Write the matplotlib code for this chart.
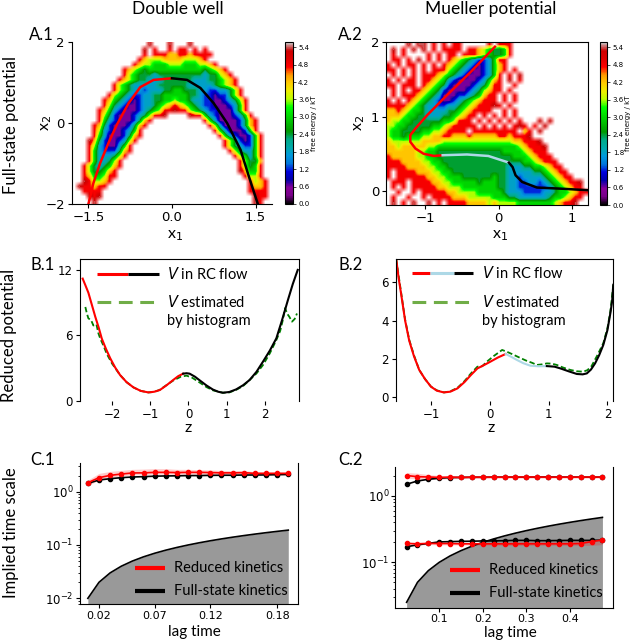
import matplotlib
matplotlib.use('Agg')
import matplotlib.pyplot as plt
import numpy as np

W, H = 634, 640
LABEL_FONT = ['Lato', 'DejaVu Sans']

# free energy maps, one string per row from the top
# "column:levels", level n means n * 0.6 kT and a dot is an empty bin
well_rows = [
    "15:9...9...9",
    "14:9.8..8.88.8.8",
    "14:8.888778878888",
    "13:87666777766678",
    "12:87665556665556678",
    "10:876545555555555545678",
    "10:8654443444444444344678",
    "9:876544333444444333445678",
    "8:8654333334444443333345678",
    "8:86543323334455444332233468",
    "7:865432233445555544322122468",
    "6:87543212334455655433221123468",
    "6:86432112334567876543221112358",
    "5:875321112345688988654322111358",
    "5:86421112346889 23:9885321112358",
    "5:85321112478 26:85311112478",
    "4:87421112478 27:8631112478",
    "4:8632112358 28:853111258",
    "4:8531112478 29:853211258",
    "3:9742112368 30:86421258",
    "3:863211358 30:86432258",
    "3:853222478 31:8643358",
    "3:85333468 32:865358",
    "3:8533468 33:86447",
    "2:86434578 33:86458",
    "2:8644578 33:97558",
    "2:8755688 34:8668",
    "2:986678 35:8678",
    "1:988788 35:8778",
    "2:8888 35:8888",
    "3:989 36:988",
    "4:9 36:98",
]
mueller_rows = [
    "4:9.99 9:8.8.88 20:8.888",
    "1:9.8 5:9.9 9:8.8888 16:88765445 24:8",
    "1:8.8 8:8.8.8 13:8.888765445 24:8",
    "1:88 4:8.9 8:8.8 12:876543223588",
    "0:8.8.88 7:8.8.8 11:8765432123578",
    "0:88.8 5:8.8.88 10:88654321123578 25:8",
    "1:8.8.8.888 9:87654321112358 24:8.9",
    "0:8.8.88.8 8:876532111123578 24:9.8",
    "0:88.888 7:8765421111234688 25:8",
    "1:8.8.8 6:87654211112346788 24:8",
    "1:8.888 5:87654311122345788 23:8.8",
    "0:8.8 4:876543211234567888 22:.8.8",
    "0:8888765433223345678889 22:8.8",
    "0:778765543333445678888 22:.8.8",
    "0:777655443334456788 18:.8.8.8.8",
    "0:7665544444455688 16:8.8.8.8.8.8 30:9.9",
    "0:66554444455678888 17:8.8.8.8.8.8.8 26:9 31:9",
    "0:655444455667888 15:8.888888888.8 27:78 30:9",
    "0:65545556677887778777778878889",
    "0:7666666777766666666666666778889",
    "0:77677777665555555555555555678889",
    "0:77777766554444444444444555567888",
    "0:877777665544444444444444455567888",
    "0:8887777665544444444444444445567888",
    "0:88887777665544444444444433344556788",
    "0:8.8888777665544444444444333334456788",
    "0:8.88888877665554444445443323333456788",
    "0:.888.8888776655555455544332233234567889",
    "0:.8.8.8888877666555555544332222223456788",
    "0:..8..8.888887766665555543332222334556788",
    "0:.8..8..8.888877766666555443333334556788",
    "0:.9.8.9..9.8.88887777676666555555567889",
]

# projected paths in the (x1, x2) plane
well_red_x = [-1.50, -1.41, -1.29, -1.14, -0.99, -0.78, -0.57, -0.33, 0.0]
well_red_y = [-2.0, -1.48, -0.99, -0.49, -0.04, 0.49, 0.89, 1.07, 1.11]
well_black_x = [0.0, 0.27, 0.51, 0.75, 0.99, 1.23, 1.38, 1.54]
well_black_y = [1.11, 1.07, 0.87, 0.49, 0.0, -0.66, -1.32, -2.0]
mueller_red_x = [-0.05, -0.38, -0.70, -0.97, -1.13, -1.20, -1.20, -1.13, -1.02, -0.88, -0.76]
mueller_red_y = [1.94, 1.60, 1.29, 1.02, 0.84, 0.75, 0.66, 0.57, 0.50, 0.47, 0.48]
mueller_blue_x = [-0.76, -0.43, -0.14, 0.14]
mueller_blue_y = [0.48, 0.49, 0.47, 0.38]
mueller_black_x = [0.14, 0.19, 0.23, 0.32, 0.52, 0.84, 1.2]
mueller_black_y = [0.38, 0.32, 0.21, 0.12, 0.045, 0.03, 0.01]

# reduced potentials
b1_red_z = [-2.77, -2.70, -2.62, -2.53, -2.44, -2.35, -2.27, -2.16, -2.05, -1.92, -1.79, -1.62, -1.44, -1.25,
            -1.05, -0.9, -0.75, -0.58, -0.4, -0.27, -0.14]
b1_red_v = [11.2, 10.6, 9.9, 8.8, 7.7, 6.7, 5.7, 4.75, 3.9, 3.05, 2.35, 1.7, 1.22, 0.9,
            0.76, 0.82, 0.98, 1.4, 1.9, 2.25, 2.48]
b1_black_z = [-0.14, -0.05, 0.03, 0.17, 0.3, 0.47, 0.64, 0.78, 0.9, 1.07, 1.25, 1.43, 1.6, 1.78,
              1.95, 2.13, 2.3, 2.45, 2.6, 2.73, 2.86]
b1_black_v = [2.48, 2.52, 2.48, 2.2, 1.85, 1.4, 1.02, 0.82, 0.73, 0.8, 1.04, 1.42, 1.9, 2.65,
              3.58, 4.6, 5.72, 7.4, 9.2, 10.7, 12.0]
b1_hist_z = [-2.7, -2.66, -2.62, -2.55, -2.49, -2.41, -2.36, -2.31, -2.22, -2.14, -2.0, -1.79, -1.62, -1.44,
             -1.25, -1.05, -0.9, -0.75, -0.58, -0.4, -0.2, -0.05, 0.1, 0.3, 0.47, 0.64, 0.9, 1.07,
             1.25, 1.43, 1.6, 1.78, 1.95, 2.13, 2.3, 2.4, 2.47, 2.53, 2.58, 2.64, 2.71, 2.78, 2.84]
b1_hist_v = [8.6, 8.0, 7.55, 7.4, 6.9, 7.0, 6.2, 5.7, 5.0, 4.3, 3.4, 2.35, 1.7, 1.22,
             0.9, 0.76, 0.8, 1.0, 1.42, 1.85, 2.2, 2.3, 2.1, 1.65, 1.25, 0.95, 0.73, 0.76,
             1.0, 1.35, 1.9, 2.5, 3.27, 4.35, 5.57, 6.4, 7.4, 8.5, 8.0, 7.7, 7.25, 7.5, 8.0]
b2_red_z = [-1.59, -1.55, -1.51, -1.44, -1.37, -1.29, -1.20, -1.1, -1.0, -0.9, -0.78, -0.67, -0.55, -0.43,
            -0.32, -0.21, -0.1, 0.01, 0.14, 0.27]
b2_red_v = [7.17, 6.2, 5.43, 4.0, 2.95, 2.15, 1.43, 0.95, 0.56, 0.35, 0.26, 0.3, 0.47, 0.8,
            1.17, 1.51, 1.68, 1.86, 2.08, 2.26]
b2_blue_z = [0.27, 0.36, 0.46, 0.57, 0.69, 0.83, 0.97]
b2_blue_v = [2.26, 2.12, 1.95, 1.78, 1.65, 1.62, 1.63]
b2_black_z = [0.97, 1.1, 1.2, 1.34, 1.48, 1.58, 1.65, 1.72, 1.79, 1.86, 1.93, 2.0, 2.05, 2.08, 2.1]
b2_black_v = [1.63, 1.6, 1.51, 1.36, 1.22, 1.2, 1.25, 1.45, 1.77, 2.2, 2.73, 3.5, 4.38, 5.0, 5.86]
b2_hist_z = [-1.59, -1.51, -1.44, -1.37, -1.29, -1.20, -1.1, -1.0, -0.9, -0.78, -0.67, -0.55, -0.43, -0.32,
             -0.21, -0.13, -0.05, 0.07, 0.21, 0.31, 0.41, 0.52, 0.63, 0.72, 0.8, 0.89, 0.97, 1.05,
             1.14, 1.25, 1.37, 1.48, 1.59, 1.66, 1.73, 1.83, 1.93, 2.0, 2.05, 2.1]
b2_hist_v = [7.17, 5.5, 4.05, 3.0, 2.2, 1.43, 0.95, 0.56, 0.37, 0.26, 0.32, 0.5, 0.85, 1.25,
             1.6, 1.62, 1.86, 2.16, 2.47, 2.35, 2.21, 2.05, 1.9, 1.8, 1.69, 1.72, 1.77, 1.76,
             1.69, 1.55, 1.43, 1.36, 1.34, 1.42, 1.63, 2.2, 2.82, 3.6, 4.47, 5.86]

# implied time scales
c1_lag = [0.01, 0.02, 0.03, 0.04, 0.05, 0.06, 0.07, 0.08, 0.09, 0.10,
          0.11, 0.12, 0.13, 0.14, 0.15, 0.16, 0.17, 0.18, 0.19]
c1_red = [1.47, 1.83, 2.02, 2.14, 2.24, 2.25, 2.3, 2.3, 2.28, 2.3,
          2.3, 2.28, 2.25, 2.25, 2.27, 2.2, 2.2, 2.2, 2.2]
c1_red_low = [1.3, 1.65, 1.85, 1.98, 2.05, 2.08, 2.12, 2.12, 2.12, 2.14,
              2.14, 2.12, 2.1, 2.1, 2.1, 2.06, 2.06, 2.06, 2.06]
c1_red_high = [1.65, 2.2, 2.4, 2.5, 2.62, 2.65, 2.7, 2.7, 2.62, 2.62,
               2.58, 2.55, 2.5, 2.48, 2.48, 2.38, 2.36, 2.34, 2.34]
c1_black = [1.43, 1.65, 1.75, 1.83, 1.88, 1.91, 1.95, 1.97, 1.98, 2.0,
            2.0, 2.02, 2.03, 2.03, 2.05, 2.05, 2.06, 2.08, 2.1]
c2_lag = [0.025, 0.05, 0.075, 0.1, 0.125, 0.15, 0.175, 0.2, 0.225, 0.25,
          0.275, 0.3, 0.325, 0.35, 0.375, 0.4, 0.425, 0.45, 0.475]
c2_red_slow = [2.03, 1.95, 1.93, 1.9, 1.92, 1.9, 1.92, 1.92, 1.92, 1.92,
               1.93, 1.93, 1.93, 1.92, 1.92, 1.92, 1.92, 1.93, 1.92]
c2_red_slow_low = [1.85, 1.8, 1.78, 1.78, 1.82, 1.82, 1.84, 1.84, 1.84, 1.84,
                   1.85, 1.85, 1.85, 1.85, 1.85, 1.85, 1.85, 1.85, 1.85]
c2_red_slow_high = [2.25, 2.2, 2.1, 2.03, 2.02, 2.0, 2.0, 2.0, 2.0, 2.0,
                    2.0, 2.0, 2.0, 2.0, 2.0, 2.0, 2.0, 2.0, 2.0]
c2_black_slow = [1.5, 1.68, 1.78, 1.85, 1.89, 1.9, 1.91, 1.91, 1.92, 1.92,
                 1.92, 1.92, 1.93, 1.93, 1.92, 1.92, 1.92, 1.92, 1.92]
c2_red_fast = [0.193, 0.19, 0.193, 0.192, 0.192, 0.19, 0.19, 0.19, 0.19, 0.19,
               0.19, 0.19, 0.19, 0.19, 0.19, 0.19, 0.192, 0.205, 0.217]
c2_red_fast_low = [0.185, 0.183, 0.185, 0.183, 0.183, 0.182, 0.182, 0.182, 0.182, 0.18,
                   0.18, 0.18, 0.18, 0.18, 0.18, 0.18, 0.18, 0.18, 0.185]
c2_red_fast_high = [0.2, 0.197, 0.2, 0.2, 0.2, 0.2, 0.2, 0.2, 0.2, 0.2,
                    0.205, 0.205, 0.205, 0.205, 0.205, 0.21, 0.21, 0.22, 0.225]
c2_black_fast = [0.172, 0.183, 0.193, 0.203, 0.205, 0.207, 0.208, 0.21, 0.21, 0.212,
                 0.214, 0.214, 0.212, 0.212, 0.213, 0.214, 0.214, 0.214, 0.216]


def read_rows(rows, n_cols=40):
    grid = np.full((len(rows), n_cols), np.nan)
    for i, row in enumerate(rows):
        for part in row.split():
            start, levels = part.split(':')
            for j, ch in enumerate(levels):
                if ch != '.' and int(start) + j < n_cols:
                    grid[i, int(start) + j] = int(ch) * 0.6
    return grid


def px_axes(left, top, right, bottom):
    return fig.add_axes([left / W, 1 - bottom / H, (right - left) / W, (bottom - top) / H])


def fig_text(x, y, s, size=11, **kw):
    fig.text(x / W, 1 - y / H, s, fontsize=size, family=LABEL_FONT, **kw)


def energy_panel(box, cbar_box, rows, xlim, ylim):
    ax = px_axes(*box)
    grid = read_rows(rows)
    # empty bins take the red of the rim and fade out through alpha
    im = ax.imshow(np.nan_to_num(grid, nan=4.8), alpha=np.isfinite(grid).astype(float), cmap='nipy_spectral',
                   vmin=0, vmax=5.57, aspect='auto', extent=[xlim[0], xlim[1], ylim[0], ylim[1]],
                   interpolation='bilinear')
    ax.set_xlim(xlim)
    ax.set_ylim(ylim)
    ax.tick_params(labelsize=9.5, length=3, pad=2)
    cax = px_axes(*cbar_box)
    sm = plt.cm.ScalarMappable(norm=im.norm, cmap=im.cmap)
    cb = fig.colorbar(sm, cax=cax)
    cb.set_ticks(np.arange(0, 5.5, 0.6))
    cb.ax.tick_params(labelsize=5, length=2, pad=2, width=0.5)
    cb.set_label('free energy / kT', fontsize=5, labelpad=1)
    return ax


def legend_line(ax, x0, x1, y, color, **kw):
    ax.plot([x0, x1], [y, y], transform=ax.transAxes, color=color, clip_on=False, **kw)


def kinetics_legend(ax, x0, x1, x_text, y0, y1):
    legend_line(ax, x0, x1, y0, 'red', lw=3, solid_capstyle='butt')
    legend_line(ax, x0, x1, y1, 'black', lw=3, solid_capstyle='butt')
    ax.text(x_text, y0, 'Reduced kinetics', transform=ax.transAxes, va='center', fontsize=10.5, family=LABEL_FONT)
    ax.text(x_text, y1, 'Full-state kinetics', transform=ax.transAxes, va='center', fontsize=10.5, family=LABEL_FONT)


def kinetics_series(ax, lag, mean, low, high, color):
    if low is not None:
        ax.fill_between(lag, low, high, color=color, alpha=0.2, lw=0)
    ax.plot(lag, mean, color=color, lw=1.2, marker='o', ms=3)


fig = plt.figure(figsize=(W / 100, H / 100), dpi=100)

# row A
ax = energy_panel((71.7, 42.3, 272.3, 204), (285, 42.3, 292.5, 204), well_rows, (-1.8, 1.8), (-2, 2))
ax.plot(well_red_x, well_red_y, color='red', lw=1.8)
ax.plot(well_black_x, well_black_y, color='black', lw=1.8)
ax.set_xticks([-1.5, 0, 1.5], ['\u22121.5', '0.0', '1.5'])
ax.set_yticks([-2, 0, 2], ['\u22122', '0', '2'])
ax.spines[['top', 'right']].set_visible(False)

ax = energy_panel((386, 42.3, 587.7, 205), (600, 42.3, 607.3, 205), mueller_rows, (-1.53, 1.21), (-0.19, 2))
ax.plot(mueller_red_x, mueller_red_y, color='red', lw=1.8)
ax.plot(mueller_blue_x, mueller_blue_y, color='lightblue', lw=1.8)
ax.plot(mueller_black_x, mueller_black_y, color='black', lw=1.8)
ax.set_xticks([-1, 0, 1], ['\u22121', '0', '1'])
ax.set_yticks([0, 1, 2])

# row B
ax = px_axes(80, 259, 298.5, 400.7)
ax.plot(b1_hist_z, b1_hist_v, color='green', lw=1.3, ls=(0, (3, 1.5)))
ax.plot(b1_red_z, b1_red_v, color='red', lw=1.5)
ax.plot(b1_black_z, b1_black_v, color='black', lw=1.5)
ax.set_xlim(-2.84, 2.88)
ax.set_ylim(0, 13)
ax.set_xticks([-2, -1, 0, 1, 2], ['\u22122', '\u22121', '0', '1', '2'])
ax.set_yticks([0, 6, 12])
ax.spines['bottom'].set_visible(False)
ax.tick_params(labelsize=8.5, length=3, pad=2)
legend_line(ax, 0.08, 0.22, 0.894, 'red', lw=2.2, solid_capstyle='butt')
legend_line(ax, 0.22, 0.36, 0.894, 'black', lw=2.2, solid_capstyle='butt')
legend_line(ax, 0.08, 0.36, 0.70, '#70ad47', lw=2.2, ls=(0, (4.5, 2.5)))
ax.text(0.40, 0.894, '$\\mathit{V}$ in RC flow', transform=ax.transAxes, va='center', fontsize=10.5, family=LABEL_FONT)
ax.text(0.40, 0.70, '$\\mathit{V}$ estimated', transform=ax.transAxes, va='center', fontsize=10.5, family=LABEL_FONT)
ax.text(0.40, 0.56, 'by histogram', transform=ax.transAxes, va='center', fontsize=10.5, family=LABEL_FONT)

ax = px_axes(395.7, 259, 613.3, 400.7)
ax.plot(b2_hist_z, b2_hist_v, color='green', lw=1.3, ls=(0, (3, 1.5)))
ax.plot(b2_red_z, b2_red_v, color='red', lw=1.5)
ax.plot(b2_blue_z, b2_blue_v, color='lightblue', lw=1.5)
ax.plot(b2_black_z, b2_black_v, color='black', lw=1.5)
ax.set_xlim(-1.6, 2.1)
ax.set_ylim(-0.17, 7.2)
ax.set_xticks([-1, 0, 1, 2], ['\u22121', '0', '1', '2'])
ax.set_yticks([0, 2, 4, 6])
ax.spines['bottom'].set_visible(False)
ax.tick_params(labelsize=8.5, length=3, pad=2)
legend_line(ax, 0.075, 0.158, 0.90, 'red', lw=2.2, solid_capstyle='butt')
legend_line(ax, 0.158, 0.268, 0.90, 'lightblue', lw=2.2, solid_capstyle='butt')
legend_line(ax, 0.268, 0.355, 0.90, 'black', lw=2.2, solid_capstyle='butt')
legend_line(ax, 0.075, 0.355, 0.70, '#70ad47', lw=2.2, ls=(0, (4.5, 2.5)))
ax.text(0.395, 0.90, '$\\mathit{V}$ in RC flow', transform=ax.transAxes, va='center', fontsize=10.5, family=LABEL_FONT)
ax.text(0.395, 0.70, '$\\mathit{V}$ estimated', transform=ax.transAxes, va='center', fontsize=10.5, family=LABEL_FONT)
ax.text(0.395, 0.565, 'by histogram', transform=ax.transAxes, va='center', fontsize=10.5, family=LABEL_FONT)

# row C, the grey area is where the time scale is below the lag time
ax = px_axes(80.3, 463.3, 298.3, 604)
ax.fill_between(c1_lag, 1e-4, c1_lag, color='#999999', lw=0)
ax.plot(c1_lag, c1_lag, color='black', lw=1.2)
kinetics_series(ax, c1_lag, c1_black, None, None, 'black')
kinetics_series(ax, c1_lag, c1_red, c1_red_low, c1_red_high, 'red')
ax.set_yscale('log')
ax.set_xlim(0.0032, 0.199)
ax.set_ylim(0.00783, 3.4)
ax.set_xticks([0.02, 0.07, 0.12, 0.18], ['0.02', '0.07', '0.12', '0.18'])
ax.spines['top'].set_visible(False)
ax.tick_params(labelsize=8.5, length=3, pad=2)
ax.tick_params(axis='x', labelsize=8)
ax.tick_params(which='minor', length=1.5)
kinetics_legend(ax, 0.25, 0.39, 0.43, 0.256, 0.092)

ax = px_axes(395.3, 467.3, 613.3, 608.3)
ax.fill_between(c2_lag, 1e-4, c2_lag, color='#999999', lw=0)
ax.plot(c2_lag, c2_lag, color='black', lw=1.2)
kinetics_series(ax, c2_lag, c2_black_slow, None, None, 'black')
kinetics_series(ax, c2_lag, c2_black_fast, None, None, 'black')
kinetics_series(ax, c2_lag, c2_red_slow, c2_red_slow_low, c2_red_slow_high, 'red')
kinetics_series(ax, c2_lag, c2_red_fast, c2_red_fast_low, c2_red_fast_high, 'red')
ax.set_yscale('log')
ax.set_xlim(-0.001, 0.5)
ax.set_ylim(0.0203, 2.7)
ax.set_xticks([0.1, 0.2, 0.3, 0.4], ['0.1', '0.2', '0.3', '0.4'])
ax.spines['top'].set_visible(False)
ax.tick_params(labelsize=8.5, length=3, pad=1)
ax.tick_params(axis='x', labelsize=8)
ax.tick_params(which='minor', length=1.5)
kinetics_legend(ax, 0.25, 0.39, 0.43, 0.272, 0.108)

# titles, row names and panel letters
fig_text(178, 9, 'Double well', 12.5, ha='center', va='center')
fig_text(491, 9, 'Mueller potential', 12.5, ha='center', va='center')
fig_text(11, 125, 'Full-state potential', 12, rotation=90, ha='center', va='center')
fig_text(9, 335, 'Reduced potential', 12, rotation=90, ha='center', va='center')
fig_text(11, 533, 'Implied time scale', 12, rotation=90, ha='center', va='center')
for x, y, s in [(29, 35, 'A.1'), (338, 35, 'A.2'), (30, 265, 'B.1'), (338, 265, 'B.2'), (30, 460, 'C.1'), (338, 460, 'C.2')]:
    fig_text(x, y, s, 12, ha='left', va='center')
for x, y in [(175, 236), (500, 236)]:
    fig_text(x, y, 'x$_1$', 11.5, ha='center', va='center')
for x, y in [(47, 123), (360, 123)]:
    fig_text(x, y, 'x$_2$', 11.5, rotation=90, ha='center', va='center')
for x, y in [(188, 428), (491, 428)]:
    fig_text(x, y, 'z', 11.5, ha='center', va='center')
for x, y in [(194, 632), (510, 633)]:
    fig_text(x, y, 'lag time', 11, ha='center', va='center')

fig.savefig('out.png', dpi=100)
